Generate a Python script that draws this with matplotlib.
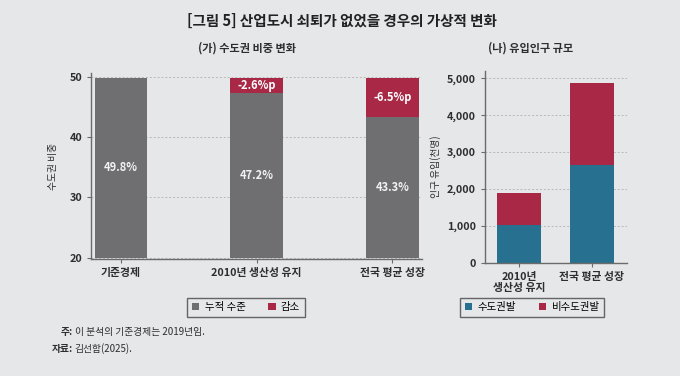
import matplotlib.pyplot as plt

plt.rcParams['font.family'] = ['Noto Sans CJK KR', 'DejaVu Sans']

# (가) 수도권 비중 변화
share_cats = ['기준경제', '2010년 생산성 유지', '전국 평균 성장']
share_level = [49.8, 47.2, 43.3]
share_drop = [0.0, 2.6, 6.5]
share_level_labels = ['49.8%', '47.2%', '43.3%']
share_drop_labels = ['', '-2.6%p', '-6.5%p']

# (나) 유입인구 규모 (천명)
inflow_cats = ['2010년\n생산성 유지', '전국 평균 성장']
inflow_capital = [1030, 2640]
inflow_noncapital = [870, 2240]

bg = '#e6e7e9'
gray = '#6f6f72'
red = '#a82846'
teal = '#27708f'
axis_col = '#6b6b6b'
text_col = '#2e2e2e'

fig = plt.figure(figsize=(6.8, 3.76), dpi=100, facecolor=bg)

fig.text(0.503, 0.945, '[그림 5] 산업도시 쇠퇴가 없었을 경우의 가상적 변화',
         ha='center', va='center', fontsize=10.5, fontweight='bold', color='#222222')
fig.text(0.363, 0.872, '(가) 수도권 비중 변화', ha='center', va='center',
         fontsize=8, fontweight='bold', color=text_col)
fig.text(0.781, 0.872, '(나) 유입인구 규모', ha='center', va='center',
         fontsize=8, fontweight='bold', color=text_col)


def style_axes(ax):
    ax.set_facecolor(bg)
    for s in ['top', 'right']:
        ax.spines[s].set_visible(False)
    for s in ['left', 'bottom']:
        ax.spines[s].set_color(axis_col)
        ax.spines[s].set_linewidth(1.0)
    ax.tick_params(colors=axis_col, labelcolor=text_col, labelsize=7.8, length=3)
    ax.yaxis.grid(True, linestyle=(0, (2, 2)), color='#b8b8bb', linewidth=0.7)
    ax.set_axisbelow(True)
    for lab in ax.get_xticklabels() + ax.get_yticklabels():
        lab.set_fontweight('bold')


# left panel
ax1 = fig.add_axes([0.134, 0.311, 0.487, 0.495])
x1 = range(len(share_cats))
ax1.bar(x1, [v - 20 for v in share_level], bottom=20, width=0.39, color=gray, label='누적 수준')
ax1.bar(x1, share_drop, bottom=share_level, width=0.39, color=red, label='감소')
for i in x1:
    ax1.text(i, (20 + share_level[i]) / 2, share_level_labels[i], ha='center', va='center',
             color='#f2f2f2', fontsize=8, fontweight='bold')
    if share_drop[i] > 0:
        ax1.text(i, share_level[i] + share_drop[i] / 2, share_drop_labels[i], ha='center',
                 va='center', color='white', fontsize=8, fontweight='bold')
ax1.set_xlim(-0.22, 2.22)
ax1.set_ylim(19.8, 50.6)
ax1.set_yticks([20, 30, 40, 50])
ax1.set_xticks(list(x1))
ax1.set_xticklabels(share_cats)
ax1.set_ylabel('수도권 비중', fontsize=7, color=text_col, labelpad=8)
style_axes(ax1)
fig.legend(handles=ax1.get_legend_handles_labels()[0], loc='center',
           bbox_to_anchor=(0.362, 0.183), ncol=2, fontsize=7.5, frameon=True,
           fancybox=False, edgecolor='#444444', facecolor=bg, handlelength=0.7,
           handleheight=0.7, columnspacing=2.2, handletextpad=0.5,
           borderpad=0.45)

# right panel
ax2 = fig.add_axes([0.713, 0.301, 0.209, 0.51])
x2 = range(len(inflow_cats))
ax2.bar(x2, inflow_capital, width=0.6, color=teal, label='수도권발')
ax2.bar(x2, inflow_noncapital, bottom=inflow_capital, width=0.6, color=red, label='비수도권발')
ax2.set_xlim(-0.47, 1.48)
ax2.set_ylim(0, 5200)
ax2.set_yticks([0, 1000, 2000, 3000, 4000, 5000])
ax2.set_yticklabels(['0', '1,000', '2,000', '3,000', '4,000', '5,000'])
ax2.set_xticks(list(x2))
ax2.set_xticklabels(inflow_cats)
ax2.set_ylabel('인구 유입(천명)', fontsize=7, color=text_col, labelpad=4)
style_axes(ax2)
fig.legend(handles=ax2.get_legend_handles_labels()[0], loc='center',
           bbox_to_anchor=(0.783, 0.183), ncol=2, fontsize=7.5, frameon=True,
           fancybox=False, edgecolor='#444444', facecolor=bg, handlelength=0.7,
           handleheight=0.7, columnspacing=2.2, handletextpad=0.5,
           borderpad=0.45)

fig.text(0.107, 0.117, '주:', fontsize=7, fontweight='bold', color=text_col,
         ha='right', va='center')
fig.text(0.11, 0.117, '이 분석의 기준경제는 2019년임.', fontsize=7, color=text_col, va='center')
fig.text(0.107, 0.072, '자료:', fontsize=7, fontweight='bold', color=text_col,
         ha='right', va='center')
fig.text(0.11, 0.072, '김선함(2025).', fontsize=7, color=text_col, va='center')

fig.savefig('out.png', dpi=100, facecolor=bg)
